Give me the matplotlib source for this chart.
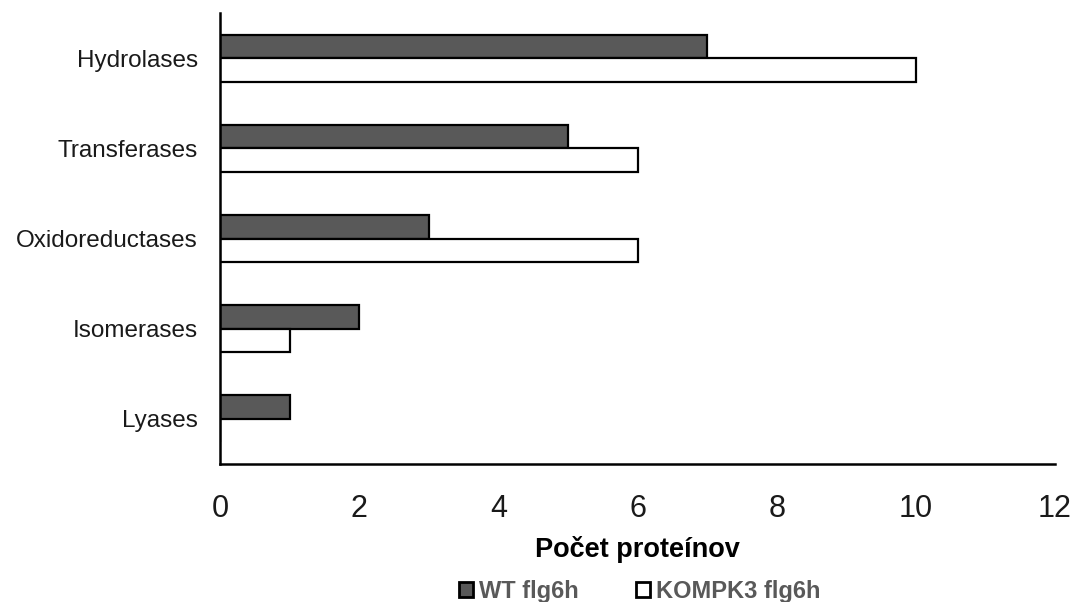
import matplotlib
matplotlib.use("Agg")
import matplotlib.pyplot as plt
import numpy as np

categories = ["Hydrolases", "Transferases", "Oxidoreductases", "Isomerases", "Lyases"]
wt_values = [7, 5, 3, 2, 1]
kompk3_values = [10, 6, 6, 1, 0]
series_labels = ["WT flg6h", "KOMPK3 flg6h"]
x_ticks = [0, 2, 4, 6, 8, 10, 12]

plt.rcParams["font.family"] = ["Liberation Sans", "DejaVu Sans"]

fig = plt.figure(figsize=(10.75, 6.02), dpi=100)
ax = fig.add_axes([0.2047, 0.2292, 0.7767, 0.7492])

y = np.arange(len(categories))[::-1]
h = 0.26
ax.barh(y + h / 2, wt_values, height=h, color="#595959", edgecolor="black",
        linewidth=1.6, label=series_labels[0])
ax.barh(y - h / 2, kompk3_values, height=h, color="white", edgecolor="black",
        linewidth=1.6, label=series_labels[1])

ax.set_ylim(-0.5, len(categories) - 0.5)
ax.set_xlim(0, 12)
ax.set_yticks(y)
ax.set_yticklabels(categories, fontsize=17.5, color="#1a1a1a")
ax.set_xticks(x_ticks)
ax.set_xticklabels([str(t) for t in x_ticks], fontsize=22, color="#1a1a1a")
ax.tick_params(axis="x", length=0, pad=21.5)
ax.tick_params(axis="y", length=0, pad=16)

for s in ["top", "right"]:
    ax.spines[s].set_visible(False)
for s in ["left", "bottom"]:
    ax.spines[s].set_linewidth(1.8)
    ax.spines[s].set_color("black")

ax.set_xlabel("Počet proteínov", fontsize=19.5, fontweight="bold", labelpad=9)

leg = fig.legend(loc="center", bbox_to_anchor=(0.595, 0.018), ncol=2,
                 frameon=False, handlelength=0.62, handleheight=0.62,
                 handletextpad=0.25, columnspacing=2.4,
                 prop={"size": 17, "weight": "bold"})
for t in leg.get_texts():
    t.set_color("#595959")
for p in leg.get_patches():
    p.set_linewidth(2.0)

fig.savefig("out.png", dpi=100)
